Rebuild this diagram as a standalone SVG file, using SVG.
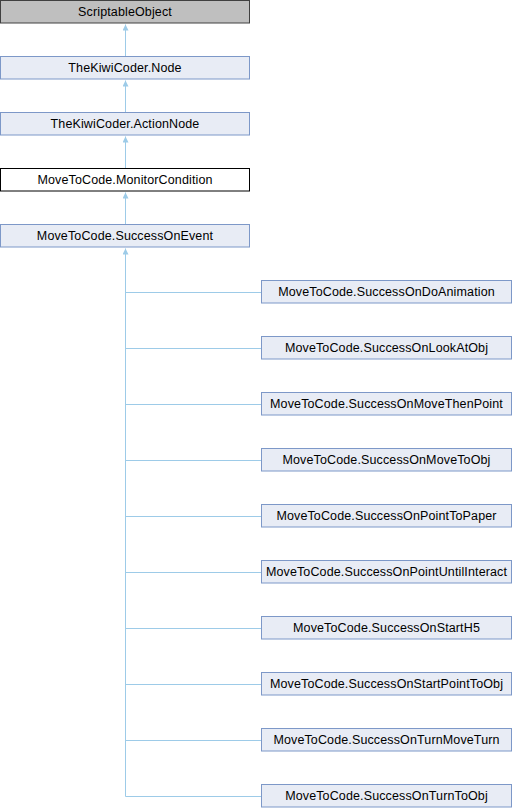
<svg xmlns="http://www.w3.org/2000/svg" width="512" height="808" viewBox="0 0 512 808">
<style>
.n rect{fill:#e8ecf5;stroke:#7d98c8;stroke-width:1}
.g rect{fill:#bfbfbf;stroke:#404040}
.w rect{fill:#ffffff;stroke:#000000}
text{font-family:"Liberation Sans",Arial,sans-serif;font-size:12.5px;letter-spacing:0.13px;fill:#000;text-anchor:middle}
.e{stroke:#9dcbe8;stroke-width:1;fill:none}
</style>
<defs>
<marker id="a" markerWidth="8" markerHeight="8" refX="6" refY="3" orient="auto" markerUnits="userSpaceOnUse">
<path d="M0,0 L6,3 L0,6 Z" fill="#9dcbe8"/>
</marker>
</defs>
<rect width="512" height="808" fill="#fff"/>
<g id="connectors">
<line class="e" x1="125.5" y1="56.5" x2="125.5" y2="24.5" marker-end="url(#a)"/>
<line class="e" x1="125.5" y1="112.5" x2="125.5" y2="80.5" marker-end="url(#a)"/>
<line class="e" x1="125.5" y1="168.5" x2="125.5" y2="136.5" marker-end="url(#a)"/>
<line class="e" x1="125.5" y1="224.5" x2="125.5" y2="192.5" marker-end="url(#a)"/>
<path class="e" d="M125.5,796.5 L125.5,254"/>
<line class="e" x1="125.5" y1="260" x2="125.5" y2="248.5" marker-end="url(#a)"/>
<path class="e" d="M125.5,292.5H261M125.5,348.5H261M125.5,404.5H261M125.5,460.5H261M125.5,516.5H261M125.5,572.5H261M125.5,628.5H261M125.5,684.5H261M125.5,740.5H261M125.5,796.5H261"/>
</g>
<g id="n0" class="g"><rect x="0.5" y="0.5" width="249" height="22.5"/><text x="125" y="15.5">ScriptableObject</text></g>
<g id="n1" class="n"><rect x="0.5" y="56.5" width="249" height="22.5"/><text x="125" y="71.5">TheKiwiCoder.Node</text></g>
<g id="n2" class="n"><rect x="0.5" y="112.5" width="249" height="22.5"/><text x="125" y="127.5">TheKiwiCoder.ActionNode</text></g>
<g id="n3" class="w"><rect x="0.5" y="168.5" width="249" height="22.5"/><text x="125" y="183.5">MoveToCode.MonitorCondition</text></g>
<g id="n4" class="n"><rect x="0.5" y="224.5" width="249" height="22.5"/><text x="125" y="239.5">MoveToCode.SuccessOnEvent</text></g>
<g id="c1" class="n"><rect x="261.5" y="280.5" width="250" height="22.5"/><text x="386.5" y="295.5">MoveToCode.SuccessOnDoAnimation</text></g>
<g id="c2" class="n"><rect x="261.5" y="336.5" width="250" height="22.5"/><text x="386.5" y="351.5">MoveToCode.SuccessOnLookAtObj</text></g>
<g id="c3" class="n"><rect x="261.5" y="392.5" width="250" height="22.5"/><text x="386.5" y="407.5">MoveToCode.SuccessOnMoveThenPoint</text></g>
<g id="c4" class="n"><rect x="261.5" y="448.5" width="250" height="22.5"/><text x="386.5" y="463.5">MoveToCode.SuccessOnMoveToObj</text></g>
<g id="c5" class="n"><rect x="261.5" y="504.5" width="250" height="22.5"/><text x="386.5" y="519.5">MoveToCode.SuccessOnPointToPaper</text></g>
<g id="c6" class="n"><rect x="261.5" y="560.5" width="250" height="22.5"/><text x="386.5" y="575.5">MoveToCode.SuccessOnPointUntilInteract</text></g>
<g id="c7" class="n"><rect x="261.5" y="616.5" width="250" height="22.5"/><text x="386.5" y="631.5">MoveToCode.SuccessOnStartH5</text></g>
<g id="c8" class="n"><rect x="261.5" y="672.5" width="250" height="22.5"/><text x="386.5" y="687.5">MoveToCode.SuccessOnStartPointToObj</text></g>
<g id="c9" class="n"><rect x="261.5" y="728.5" width="250" height="22.5"/><text x="386.5" y="743.5">MoveToCode.SuccessOnTurnMoveTurn</text></g>
<g id="c10" class="n"><rect x="261.5" y="784.5" width="250" height="22.5"/><text x="386.5" y="799.5">MoveToCode.SuccessOnTurnToObj</text></g>
</svg>
